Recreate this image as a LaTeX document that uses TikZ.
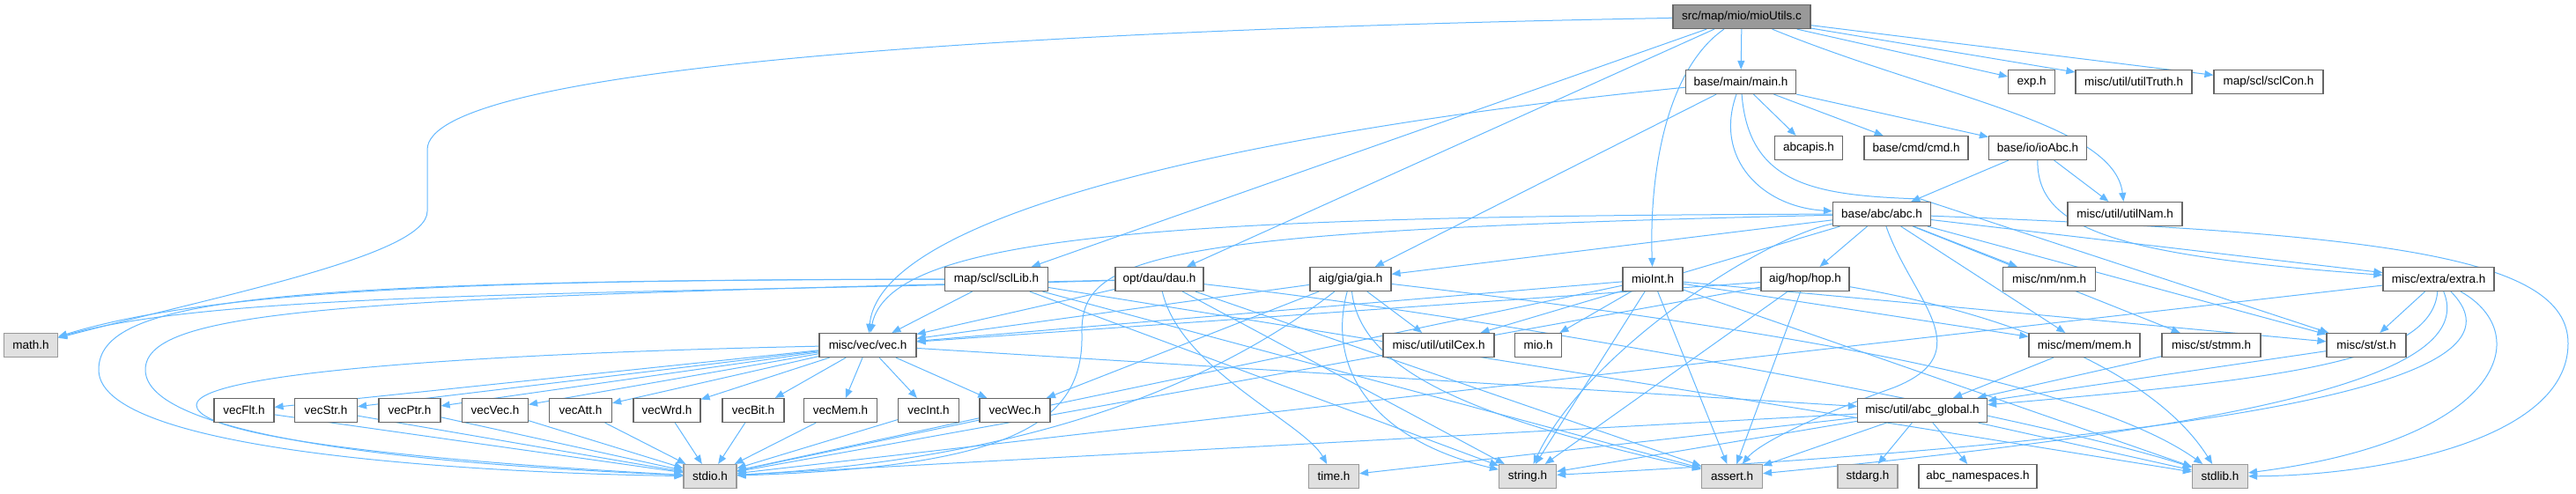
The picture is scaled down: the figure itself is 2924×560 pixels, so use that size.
\documentclass[tikz,border=0pt]{standalone}
\usepackage{fontspec}
\setmainfont{Liberation Sans}
\usetikzlibrary{arrows.meta}
\definecolor{edgeblue}{HTML}{63B8FF}
\definecolor{boxline}{HTML}{666666}
\definecolor{sysline}{HTML}{999999}
\definecolor{sysfill}{HTML}{E0E0E0}
\definecolor{rootfill}{HTML}{999999}
\pgfdeclarelayer{edges}
\pgfsetlayers{edges,main}

\begin{document}
\begin{tikzpicture}[x=1pt, y=-1pt,
    file/.style={draw=boxline, fill=white, line width=1.2pt, minimum width=#1, minimum height=27pt, inner sep=0pt, font=\fontsize{13.5}{16}\selectfont},
    sys/.style={file=#1, draw=sysline, fill=sysfill},
    root/.style={file=#1, fill=rootfill},
    link/.style={color=edgeblue, line width=1pt, -{Triangle[length=10pt, width=8pt]}}
]
\useasboundingbox (0,0) rectangle (2924,560);
% row 1
\node[root=156pt] (R) at (1977,19) {src/map/mio/mioUtils.c};
% row 2
\node[file=125pt] (main) at (1976,93) {base/main/main.h};
\node[file=53pt] (exp) at (2306,93) {exp.h};
\node[file=132pt] (truth) at (2422,93) {misc/util/utilTruth.h};
\node[file=124pt] (sclcon) at (2575,93) {map/scl/sclCon.h};
% row 3
\node[file=77pt] (abcapis) at (2053,168) {abcapis.h};
\node[file=118pt] (cmd) at (2175,168) {base/cmd/cmd.h};
\node[file=111pt] (ioabc) at (2313,168) {base/io/ioAbc.h};
% row 4
\node[file=111pt] (abc) at (2136,243) {base/abc/abc.h};
\node[file=130pt] (nam) at (2412,243) {misc/util/utilNam.h};
% row 5
\node[file=117pt] (scllib) at (1131,317) {map/scl/sclLib.h};
\node[file=100pt] (dau) at (1316,317) {opt/dau/dau.h};
\node[file=92pt] (gia) at (1533,317) {aig/gia/gia.h};
\node[file=68pt] (mioint) at (1876,317) {mioInt.h};
\node[file=100pt] (hop) at (2049,317) {aig/hop/hop.h};
\node[file=105pt] (nm) at (2326,317) {misc/nm/nm.h};
\node[file=126pt] (extra) at (2768,317) {misc/extra/extra.h};
% row 6
\node[sys=61pt] (math) at (35,392) {math.h};
\node[file=110pt] (vec) at (985,392) {misc/vec/vec.h};
\node[file=126pt] (cex) at (1633,392) {misc/util/utilCex.h};
\node[file=53pt] (mio) at (1746,392) {mio.h};
\node[file=126pt] (mem) at (2366,392) {misc/mem/mem.h};
\node[file=112pt] (stmm) at (2510,392) {misc/st/stmm.h};
\node[file=90pt] (st) at (2686,392) {misc/st/st.h};
% row 7
\node[file=68pt] (vecflt) at (277,466) {vecFlt.h};
\node[file=71pt] (vecstr) at (370,466) {vecStr.h};
\node[file=70pt] (vecptr) at (465,466) {vecPtr.h};
\node[file=75pt] (vecvec) at (562,466) {vecVec.h};
\node[file=71pt] (vecatt) at (659,466) {vecAtt.h};
\node[file=76pt] (vecwrd) at (757,466) {vecWrd.h};
\node[file=70pt] (vecbit) at (855,466) {vecBit.h};
\node[file=83pt] (vecmem) at (954,466) {vecMem.h};
\node[file=69pt] (vecint) at (1054,466) {vecInt.h};
\node[file=80pt] (vecwec) at (1152,466) {vecWec.h};
\node[file=147pt] (global) at (2182,466) {misc/util/abc\_global.h};
% row 8
\node[sys=60pt] (stdio) at (806,541) {stdio.h};
\node[sys=57pt] (time) at (1514,541) {time.h};
\node[sys=65pt] (string) at (1734,541) {string.h};
\node[sys=69pt] (assert) at (1966,541) {assert.h};
\node[sys=68pt] (stdarg) at (2120,541) {stdarg.h};
\node[file=134pt] (ns) at (2245,541) {abc\_namespaces.h};
\node[sys=63pt] (stdlib) at (2520,541) {stdlib.h};

\begin{pgfonlayer}{edges}
% mioUtils.c
\draw[link] (R) edge (main) edge (exp) edge (truth) edge (sclcon) edge (scllib) edge (dau);
\draw[link] (R) .. controls (1100,35) and (485,80) .. (485,170) -- (485,240) .. controls (485,290) and (250,335) .. (math);
\draw[link] (R) .. controls (2200,110) and (2400,140) .. (nam);
\draw[link] (R) .. controls (1890,80) and (1872,200) .. (mioint);
% main.h
\draw[link] (main) edge (abcapis) edge (cmd) edge (ioabc) edge (gia);
\draw[link] (main) .. controls (1945,180) and (2000,235) .. (abc);
\draw[link] (main) .. controls (1500,140) and (1000,230) .. (vec);
\draw[link] (main) .. controls (1985,210) and (2060,222) .. (2180,226) -- (st);
% ioAbc.h
\draw[link] (ioabc) edge (abc) edge (nam);
\draw[link] (ioabc) .. controls (2312,260) and (2400,290) .. (extra);
% abc.h
\draw[link] (abc) edge (gia) edge (hop) edge (nm) edge (cex) edge (mem) edge (stmm) edge (st) edge (extra);
\draw[link] (abc) .. controls (2000,270) and (1800,400) .. (string);
\draw[link] (abc) .. controls (2170,340) and (2250,400) .. (2150,440) .. controls (2080,465) and (2000,500) .. (assert);
\draw[link] (abc) .. controls (1300,245) and (1010,270) .. (vec);
\draw[link] (abc) .. controls (1300,262) and (1226,290) .. (1228,380) .. controls (1230,480) and (1150,530) .. (stdio);
\draw[link] (abc) .. controls (2700,265) and (2915,290) .. (2915,390) .. controls (2915,500) and (2700,540) .. (stdlib);
% gia.h
\draw[link] (gia) edge (vec) edge (vecwec) edge (cex);
\draw[link] (gia) .. controls (1505,420) and (1560,500) .. (string);
\draw[link] (gia) .. controls (1545,430) and (1700,480) .. (assert);
\draw[link] (gia) .. controls (1400,420) and (1200,520) .. (stdio);
\draw[link] (gia) .. controls (1900,360) and (2350,420) .. (stdlib);
% hop.h
\draw[link] (hop) edge (vec) edge (string) edge (assert) edge (stdio);
\draw[link] (hop) .. controls (2300,360) and (2450,430) .. (stdlib);
% mioInt.h
\draw[link] (mioint) edge (mio) edge (vec) edge (string) edge (assert) edge (mem) edge (st) edge (stdlib) edge (stdio);
% dau.h
\draw[link] (dau) edge (vec) edge (string) edge (assert);
\draw[link] (dau) .. controls (1700,360) and (2300,470) .. (stdlib);
\draw[link] (dau) .. controls (1340,420) and (1480,480) .. (time);
\draw[link] (dau) .. controls (700,335) and (250,330) .. (math);
\draw[link] (dau) .. controls (400,338) and (165,350) .. (165,420) .. controls (165,510) and (600,532) .. (stdio);
% sclLib.h
\draw[link] (scllib) edge (vec) edge (string) edge (assert) edge (stdlib);
\draw[link] (scllib) .. controls (600,318) and (250,325) .. (math);
\draw[link] (scllib) .. controls (300,318) and (112,340) .. (112,420) .. controls (112,520) and (600,538) .. (stdio);
% vec.h
\draw[link] (vec) edge (vecflt) edge (vecstr) edge (vecptr) edge (vecvec) edge (vecatt) edge (vecwrd) edge (vecbit) edge (vecmem) edge (vecint) edge (vecwec) edge (global);
\draw[link] (vec) .. controls (600,400) and (223,420) .. (223,460) .. controls (223,505) and (600,530) .. (stdio);
\draw[link] (vecflt) edge (stdio) (vecstr) edge (stdio) (vecptr) edge (stdio) (vecvec) edge (stdio) (vecatt) edge (stdio) (vecwrd) edge (stdio) (vecbit) edge (stdio) (vecmem) edge (stdio) (vecint) edge (stdio) (vecwec) edge (stdio);
% st, mem, extra
\draw[link] (mem) edge (global) (stmm) edge (global) (st) edge (global);
\draw[link] (extra) edge (st) edge (stdio);
\draw[link] (extra) .. controls (2760,410) and (2600,430) .. (global);
\draw[link] (extra) .. controls (2810,420) and (2600,480) .. (assert);
\draw[link] (extra) .. controls (2860,410) and (2700,490) .. (string);
\draw[link] (extra) .. controls (2880,380) and (2840,500) .. (stdlib);
% abc_global.h
\draw[link] (global) edge (stdio) edge (time) edge (string) edge (assert) edge (stdarg) edge (ns) edge (stdlib);
\end{pgfonlayer}
\end{tikzpicture}
\end{document}
